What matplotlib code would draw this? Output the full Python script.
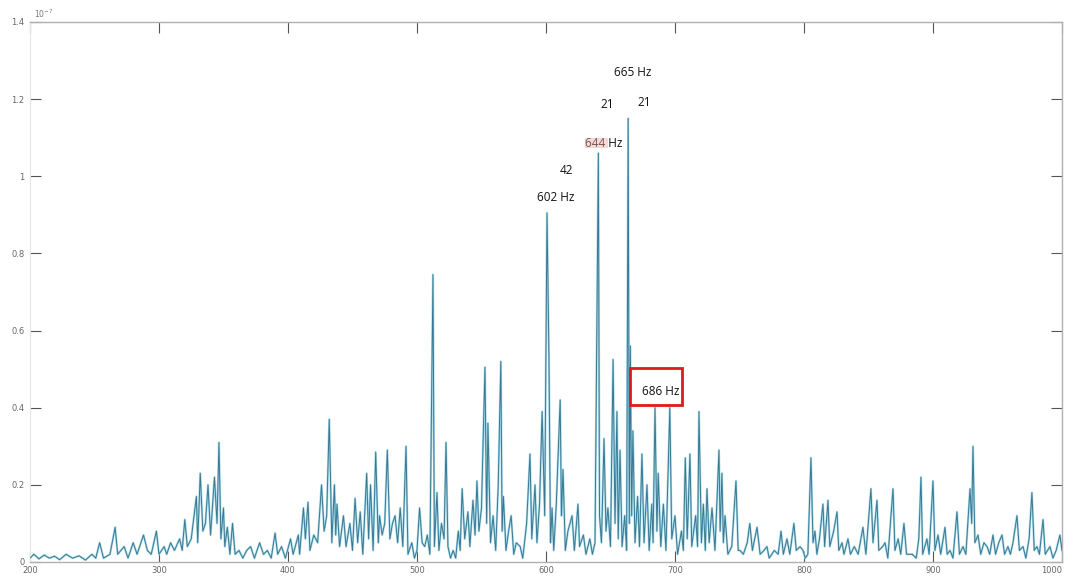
import matplotlib
matplotlib.use("Agg")
import matplotlib.pyplot as plt
from matplotlib.patches import Rectangle

# ==========================
# 1. Spectrum data (Hz, amplitude x 1e-7)
# ==========================
freq_hz = [
    200, 203, 207, 211, 215, 219, 223, 228, 233, 238, 243, 248, 251, 254, 257, 262, 266, 268, 273, 276,
    280, 283, 288, 291, 294, 298, 300, 304, 306, 309, 312, 316, 318, 320, 322, 325, 329, 330, 332, 334,
    336, 338, 340, 343, 345, 346.5, 348, 350, 351, 353, 355, 357, 359, 362, 365, 368, 371, 374, 378, 381,
    384, 387, 390, 392, 395, 398, 402, 404, 408, 409, 412, 413.5, 415.5, 417, 420, 423, 426, 428, 430, 432,
    434, 436, 437, 438, 440, 443, 445, 448, 450, 452, 454, 456, 458, 461, 462.5, 464, 466, 468, 470, 471,
    473, 475, 477, 479, 481, 483, 485, 487, 489, 491.5, 493, 496, 498, 500, 502, 504, 506, 508, 510, 512.4,
    513.5, 515.5, 517, 519, 521, 522.5, 524, 526, 528, 530, 532, 533.5, 535, 537, 539.5, 541, 543.4, 545, 546.5, 548,
    550, 552.7, 554, 555, 557, 559, 561, 563, 565, 566, 567, 569, 571, 573, 575, 577, 580, 582, 585, 587.6,
    589, 591.5, 593, 595, 597, 599, 600.8, 602.3, 603.5, 604.7, 606, 608, 611, 612, 613.2, 615, 617, 620.2, 622, 624.8,
    626, 629, 631, 634, 636, 638, 640.6, 641.5, 643, 645, 646.5, 648, 650, 652, 653.5, 655, 656, 657.4, 659, 661,
    662.5, 663.7, 664.6, 665.4, 666.4, 667.4, 669, 671, 672.5, 674.4, 676, 678.3, 680, 682, 683, 684.5, 686, 687, 689, 691,
    693, 696, 697.5, 700, 702, 705, 706.5, 708, 709.5, 711.6, 713, 716, 717.5, 718.6, 720.5, 722, 723.5, 724.8, 726.5, 728.7,
    731, 734.1, 735, 736.4, 737.5, 738.8, 741, 744, 747.3, 749, 750.4, 753, 756, 758, 760, 763.6, 766, 769, 771.3, 773,
    777, 780, 782.2, 784, 786.8, 789, 792.2, 794, 797, 799.2, 801, 803, 805.4, 807, 808.5, 810, 812, 814.7, 816, 818.6,
    820, 823, 825.6, 827, 829.5, 831, 834.1, 836, 839, 842, 845.7, 848, 851.9, 853.5, 856.6, 858, 861, 862.8, 865, 869,
    870.5, 873, 875, 877.5, 879.5, 884, 887, 889, 890.7, 892, 895.3, 897, 900, 901.5, 903.9, 906, 909.3, 911, 913.2, 915.5,
    918.6, 920.5, 923.3, 925.5, 928.7, 930, 931, 932.5, 934.9, 937, 939.5, 941.9, 944, 946.5, 948.5, 951, 953.5, 955.5, 958.1, 960,
    962, 965.1, 967, 969.8, 972, 974.5, 976.7, 978.5, 980.6, 982.5, 985.3, 987, 990.7, 993, 995.5, 998.4, 1000,
]
amplitude = [
    0.010, 0.020, 0.008, 0.018, 0.010, 0.015, 0.006, 0.020, 0.010, 0.016, 0.005, 0.020, 0.010, 0.050, 0.010, 0.020, 0.090, 0.020, 0.040, 0.010,
    0.050, 0.020, 0.070, 0.030, 0.020, 0.080, 0.020, 0.040, 0.020, 0.050, 0.030, 0.060, 0.030, 0.110, 0.040, 0.060, 0.170, 0.050, 0.230, 0.080,
    0.100, 0.200, 0.070, 0.220, 0.100, 0.310, 0.060, 0.140, 0.040, 0.090, 0.020, 0.100, 0.020, 0.030, 0.010, 0.030, 0.040, 0.010, 0.050, 0.020,
    0.030, 0.010, 0.075, 0.020, 0.040, 0.010, 0.060, 0.020, 0.070, 0.020, 0.140, 0.060, 0.155, 0.030, 0.070, 0.050, 0.200, 0.080, 0.120, 0.370,
    0.050, 0.200, 0.070, 0.150, 0.040, 0.120, 0.040, 0.100, 0.030, 0.165, 0.050, 0.130, 0.020, 0.230, 0.060, 0.200, 0.030, 0.285, 0.050, 0.120,
    0.070, 0.100, 0.290, 0.060, 0.100, 0.120, 0.050, 0.140, 0.040, 0.300, 0.020, 0.050, 0.010, 0.030, 0.140, 0.050, 0.040, 0.070, 0.020, 0.745,
    0.040, 0.180, 0.030, 0.100, 0.060, 0.310, 0.040, 0.010, 0.030, 0.010, 0.080, 0.030, 0.190, 0.060, 0.130, 0.040, 0.160, 0.070, 0.210, 0.080,
    0.140, 0.505, 0.100, 0.360, 0.050, 0.120, 0.030, 0.200, 0.520, 0.080, 0.170, 0.030, 0.080, 0.120, 0.020, 0.050, 0.040, 0.010, 0.100, 0.280,
    0.060, 0.200, 0.050, 0.150, 0.390, 0.120, 0.905, 0.530, 0.050, 0.140, 0.030, 0.150, 0.420, 0.120, 0.240, 0.030, 0.080, 0.120, 0.030, 0.150,
    0.040, 0.070, 0.020, 0.060, 0.020, 0.050, 1.060, 0.120, 0.050, 0.320, 0.080, 0.140, 0.040, 0.525, 0.100, 0.390, 0.060, 0.290, 0.040, 0.120,
    0.030, 1.150, 0.100, 0.560, 0.120, 0.340, 0.050, 0.170, 0.040, 0.280, 0.050, 0.200, 0.030, 0.150, 0.050, 0.400, 0.080, 0.230, 0.040, 0.150,
    0.030, 0.400, 0.060, 0.120, 0.020, 0.080, 0.030, 0.270, 0.060, 0.280, 0.040, 0.120, 0.040, 0.390, 0.050, 0.150, 0.030, 0.190, 0.050, 0.140,
    0.030, 0.290, 0.080, 0.230, 0.050, 0.120, 0.020, 0.040, 0.210, 0.030, 0.030, 0.020, 0.050, 0.100, 0.030, 0.090, 0.020, 0.030, 0.040, 0.010,
    0.030, 0.020, 0.080, 0.020, 0.060, 0.020, 0.100, 0.030, 0.040, 0.030, 0.010, 0.020, 0.270, 0.050, 0.080, 0.020, 0.060, 0.150, 0.040, 0.160,
    0.040, 0.080, 0.130, 0.030, 0.050, 0.020, 0.060, 0.020, 0.040, 0.020, 0.090, 0.020, 0.190, 0.050, 0.160, 0.030, 0.040, 0.050, 0.010, 0.190,
    0.030, 0.060, 0.020, 0.100, 0.020, 0.020, 0.010, 0.060, 0.220, 0.020, 0.060, 0.020, 0.210, 0.030, 0.070, 0.020, 0.090, 0.020, 0.030, 0.010,
    0.130, 0.020, 0.040, 0.020, 0.190, 0.100, 0.300, 0.050, 0.070, 0.020, 0.050, 0.040, 0.020, 0.070, 0.020, 0.050, 0.070, 0.020, 0.040, 0.020,
    0.050, 0.120, 0.030, 0.040, 0.010, 0.060, 0.180, 0.030, 0.040, 0.020, 0.110, 0.020, 0.040, 0.010, 0.030, 0.070, 0.030,
]

x_ticks = [200, 300, 400, 500, 600, 700, 800, 900, 1000]
y_ticks = [0, 0.2, 0.4, 0.6, 0.8, 1.0, 1.2, 1.4]
y_tick_labels = ["0", "0.2", "0.4", "0.6", "0.8", "1", "1.2", "1.4"]

# annotation texts and where they sit (Hz, amplitude)
note_texts = ["665 Hz", "21", "21", "644 Hz", "42", "602 Hz"]
note_x = [667.4, 647.3, 676.0, 645.0, 615.5, 607.8]
note_y = [1.268, 1.185, 1.19, 1.086, 1.016, 0.944]

# ==========================
# 2. Figure
# ==========================
fig = plt.figure(figsize=(10.67, 5.77), dpi=100)
ax = fig.add_axes([0.0281, 0.026, 0.9672, 0.9359])

# light halo + darker core gives the washed-out screenshot look
ax.plot(freq_hz, amplitude, color="#a9dbe8", linewidth=1.6, zorder=2)
ax.plot(freq_hz, amplitude, color="#3a7893", linewidth=0.7, zorder=3)

ax.set_xlim(200, 1000)
ax.set_ylim(0, 1.4)

ax.set_xticks(x_ticks)
ax.set_xticklabels([str(t) for t in x_ticks])
ax.set_yticks(y_ticks)
ax.set_yticklabels(y_tick_labels)
ax.tick_params(axis="both", direction="in", length=8, width=0.8, color="#555555",
               labelsize=6, labelcolor="#666666", top=True, right=True)
ax.tick_params(axis="x", pad=3)
ax.tick_params(axis="y", pad=4)
# last x label would run off the right edge
ax.get_xticklabels()[-1].set_horizontalalignment("right")

for side in ["top", "bottom", "right"]:
    ax.spines[side].set_color("#b0b0b0")
    ax.spines[side].set_linewidth(1.0)
ax.spines["left"].set_color("#e6e6e6")

ax.text(0.004, 1.004, r"10$^{-7}$", transform=ax.transAxes, fontsize=5.5,
        color="#777777", ha="left", va="bottom")

# ==========================
# 3. Annotations
# ==========================
for txt, tx, ty in zip(note_texts, note_x, note_y):
    ax.text(tx, ty, txt, fontsize=8.5, family="Open Sans", color="#111111",
            ha="center", va="center", zorder=5,
            bbox=dict(facecolor="white", edgecolor="none", pad=1.5, alpha=0.9))

# faint pink smear behind "644"
ax.add_patch(Rectangle((630.5, 1.074), 17.5, 0.024, facecolor="#f0a8a0",
                       edgecolor="none", alpha=0.45, zorder=6))

ax.text(689.0, 0.443, "686 Hz", fontsize=8.5, family="Open Sans", color="#111111",
        ha="center", va="center", zorder=6)
ax.add_patch(Rectangle((665.1, 0.407), 40.3, 0.096, facecolor="white",
                       edgecolor="#e0191b", linewidth=2, zorder=5))

fig.savefig("out.png", dpi=100)
